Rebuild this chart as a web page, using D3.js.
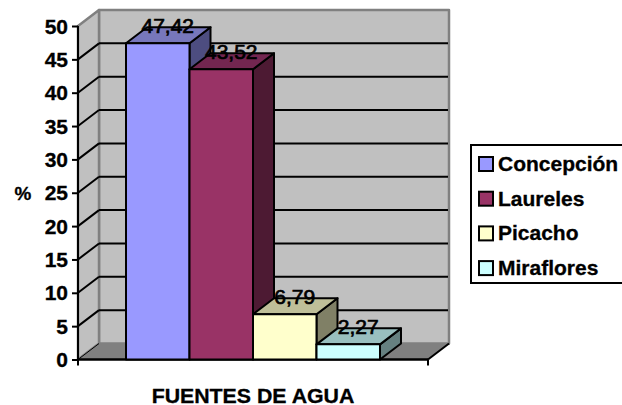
<!DOCTYPE html>
<html>
<head>
<meta charset="utf-8">
<script src="https://cdn.jsdelivr.net/npm/d3@7"></script>
<style>
  html, body { margin: 0; padding: 0; background: #fff; }
  svg { display: block; }
  text { font-family: "Liberation Sans", Arial, sans-serif; fill: #000; stroke: #000; stroke-width: 0.3; }
</style>
</head>
<body>
<div id="chart"></div>
<script>
var categories = ['Concepción', 'Laureles', 'Picacho', 'Miraflores'];
var values = [47.42, 43.52, 6.79, 2.27];
var yTicks = [0, 5, 10, 15, 20, 25, 30, 35, 40, 45, 50];
var colors = ['#9999ff', '#993366', '#ffffcc', '#ccffff'];
var topColors = ['#7777bb', '#732650', '#bfbf99', '#99bfbf'];
var sideColors = ['#4d4d80', '#4d1a33', '#808066', '#668080'];
var xTitle = 'FUENTES DE AGUA';
var yTitle = '%';

var width = 622, height = 405,
    plotLeft = 78, plotRight = 428, plotTop = 26, plotBottom = 359.5,
    depthX = 21, depthY = 16,
    stretch = 1.05;

var svg = d3.select('#chart').append('svg')
    .attr('width', width)
    .attr('height', height);

var y = d3.scaleLinear().domain([0, 50]).range([plotBottom, plotTop]);
var x = d3.scaleBand().domain(categories).range([plotLeft, plotRight])
    .paddingInner(0).paddingOuter(0.756);
var labelFormat = d3.formatLocale({ decimal: ',', thousands: '.', grouping: [3], currency: ['', ''] }).format('.2f');

// text in the picture is a bit wider than the font
function wideText(g, px, py, str, size, weight, anchor) {
  return g.append('text')
    .attr('transform', 'translate(' + px + ',' + py + ') scale(' + stretch + ',1)')
    .attr('text-anchor', anchor)
    .style('font-size', size + 'px')
    .style('font-weight', weight)
    .text(str);
}

function poly(g, pts, fill, stroke, sw) {
  return g.append('polygon')
    .attr('points', pts.map(function(p) { return p.join(','); }).join(' '))
    .attr('fill', fill)
    .attr('stroke', stroke)
    .attr('stroke-width', sw)
    .attr('stroke-linejoin', 'round');
}

// walls and floor
var walls = svg.append('g');
poly(walls, [[plotLeft + depthX, plotTop - depthY], [plotRight + depthX, plotTop - depthY], [plotRight + depthX, plotBottom - depthY], [plotLeft + depthX, plotBottom - depthY]], '#c0c0c0', '#808080', 2.5);
poly(walls, [[plotLeft, plotTop], [plotLeft + depthX, plotTop - depthY], [plotLeft + depthX, plotBottom - depthY], [plotLeft, plotBottom]], '#c0c0c0', '#808080', 2.5);
poly(walls, [[plotLeft, plotBottom], [plotLeft + depthX, plotBottom - depthY], [plotRight + depthX, plotBottom - depthY], [plotRight, plotBottom]], '#808080', 'none', 0);

// gridlines, back wall and left wall
var grid = svg.append('g').selectAll('g')
    .data(yTicks.filter(function(d) { return d > 0 && d < 50; }))
  .enter().append('g');
grid.append('line')
    .attr('x1', plotLeft).attr('y1', function(d) { return y(d); })
    .attr('x2', plotLeft + depthX).attr('y2', function(d) { return y(d) - depthY; })
    .attr('stroke', '#000').attr('stroke-width', 2);
grid.append('line')
    .attr('x1', plotLeft + depthX).attr('y1', function(d) { return y(d) - depthY; })
    .attr('x2', plotRight + depthX - 1).attr('y2', function(d) { return y(d) - depthY; })
    .attr('stroke', '#000').attr('stroke-width', 2);

// floor edges
svg.append('line').attr('x1', plotRight).attr('y1', plotBottom)
    .attr('x2', plotRight + depthX).attr('y2', plotBottom - depthY)
    .attr('stroke', '#000').attr('stroke-width', 2);
svg.append('line').attr('x1', plotLeft).attr('y1', plotBottom)
    .attr('x2', plotLeft + depthX).attr('y2', plotBottom - depthY)
    .attr('stroke', '#000').attr('stroke-width', 1);

// axes
var yAxis = svg.append('g')
    .attr('transform', 'translate(' + plotLeft + ',0)')
    .call(d3.axisLeft(y).tickValues(yTicks).tickSize(6).tickPadding(4));
yAxis.selectAll('path, line').attr('stroke', '#000').attr('stroke-width', 2);
yAxis.select('.domain').attr('d', 'M0,' + plotTop + 'V' + plotBottom);
yAxis.selectAll('.tick text').remove();
yAxis.selectAll('.tick').each(function(d) {
  wideText(d3.select(this), -10, 7, d, 20, 'bold', 'end');
});

var xAxis = svg.append('g');
xAxis.append('line').attr('x1', plotLeft).attr('x2', plotRight).attr('y1', plotBottom).attr('y2', plotBottom)
    .attr('stroke', '#000').attr('stroke-width', 2.5);
[plotLeft, plotRight].forEach(function(d) {
  xAxis.append('line').attr('x1', d).attr('x2', d).attr('y1', plotBottom).attr('y2', plotBottom + 6)
      .attr('stroke', '#000').attr('stroke-width', 2);
});

// bars, drawn left to right so the next bar covers the side of the previous one
var bars = svg.append('g').selectAll('g')
    .data(values)
  .enter().append('g');
bars.each(function(d, i) {
  var g = d3.select(this),
      x0 = x(categories[i]), x1 = x0 + x.bandwidth(), yv = y(d);
  poly(g, [[x1, yv], [x1 + depthX, yv - depthY], [x1 + depthX, plotBottom - depthY], [x1, plotBottom]], sideColors[i], '#000', 2);
  poly(g, [[x0, yv], [x0 + depthX, yv - depthY], [x1 + depthX, yv - depthY], [x1, yv]], topColors[i], '#000', 2);
  poly(g, [[x0, yv], [x1, yv], [x1, plotBottom], [x0, plotBottom]], colors[i], '#000', 2);
});

// value labels
var labels = svg.append('g');
values.forEach(function(d, i) {
  wideText(labels, x(categories[i]) + x.bandwidth() / 2 + 10, y(d) - 10, labelFormat(d), 20, 'normal', 'middle')
    .style('stroke-width', 0.7);
});

// axis titles
wideText(svg, 23, 200, yTitle, 18, 'bold', 'middle');
wideText(svg, 253, 403, xTitle, 20.3, 'bold', 'middle');

// legend
var legend = svg.append('g');
legend.append('rect')
    .attr('x', 471).attr('y', 145).attr('width', 160).attr('height', 138)
    .attr('fill', '#fff').attr('stroke', '#000').attr('stroke-width', 2);
var rows = legend.selectAll('g')
    .data(categories)
  .enter().append('g')
    .attr('transform', function(d, i) { return 'translate(0,' + (164 + i * 34.7) + ')'; });
rows.append('rect')
    .attr('x', 479).attr('y', -7).attr('width', 14).attr('height', 14)
    .attr('fill', function(d, i) { return colors[i]; })
    .attr('stroke', '#000').attr('stroke-width', 2);
rows.each(function(d) {
  wideText(d3.select(this), 498, 7, d, 20, 'bold', 'start');
});
</script>
</body>
</html>
